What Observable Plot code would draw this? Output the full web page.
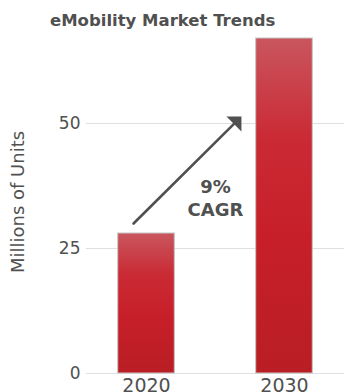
<!DOCTYPE html>
<html>
<head>
<meta charset="utf-8">
<script src="https://cdn.jsdelivr.net/npm/d3@7"></script>
<script src="https://cdn.jsdelivr.net/npm/@observablehq/plot@0.6"></script>
<style>
  body { margin: 0; background: #fff; }
  #wrap { position: relative; width: 344px; height: 392px; overflow: hidden; }
  #title {
    position: absolute; left: 50px; top: 11px;
    font: bold 16.5px "DejaVu Sans", sans-serif; color: #505050;
    white-space: nowrap;
  }
  #chart { position: absolute; left: 0; top: 34px; }
</style>
</head>
<body>
<div id="wrap">
  <div id="title">eMobility Market Trends</div>
  <div id="chart"></div>
</div>
<script>
// Unit sales, millions
const years = [2020, 2030];
const units = [28, 67];
const yTicks = [0, 25, 50];

// Growth annotation: arrow tail/tip and label anchor (data units)
const arrowX = [2019.06, 2026.88];
const arrowY = [30, 51.4];
const cagrLabel = "9%\nCAGR";
const cagrX = [2025];
const cagrY = [35.3];

const bars = years.map((year, i) => ({year, units: units[i]}));
const halfBar = 2.05; // half bar width, in years
const ink = "#505050";

// Right-angled arrowhead whose corner is the tip
const headSymbol = {
  draw(context, size) {
    const s = Math.sqrt(size / Math.PI);
    context.moveTo(0, 0);
    context.lineTo(-s, 0);
    context.lineTo(0, s);
    context.closePath();
  }
};

const chart = Plot.plot({
  width: 344,
  height: 358,
  marginLeft: 86,
  marginRight: 0,
  marginTop: 4,
  marginBottom: 19,
  style: {fontFamily: "DejaVu Sans, sans-serif", fontSize: "17px", color: ink, background: "transparent"},
  x: {domain: [2015.65, 2034.35]},
  y: {domain: [0, 67]},
  marks: [
    Plot.gridY(yTicks, {stroke: "#e0e0e0", strokeOpacity: 1}),
    Plot.rectY(bars, {
      x1: d => d.year - halfBar,
      x2: d => d.year + halfBar,
      y: "units",
      fill: "url(#barFill)",
      stroke: "#c4c4c4",
      strokeWidth: 1
    }),
    Plot.arrow([0], {
      x1: () => arrowX[0], y1: () => arrowY[0],
      x2: () => arrowX[1], y2: () => arrowY[1],
      stroke: ink, strokeWidth: 2.6, headLength: 0, insetEnd: 8
    }),
    Plot.dot([0], {
      x: () => arrowX[1], y: () => arrowY[1],
      symbol: headSymbol, r: 15, fill: ink, stroke: "none"
    }),
    Plot.text([cagrLabel], {
      x: () => cagrX[0], y: () => cagrY[0],
      text: d => d, fontWeight: "bold", fontSize: 18, fill: ink,
      lineAnchor: "middle", lineHeight: 1.28
    }),
    Plot.axisY({ticks: yTicks, tickSize: 0, tickPadding: 6, label: null, fontSize: 17}),
    Plot.axisX({ticks: years, tickFormat: d => String(d), tickSize: 0, tickPadding: 5, label: null, fontSize: 19}),
    Plot.text(["Millions of Units"], {
      frameAnchor: "left", rotate: -90, dx: -68, dy: -4,
      text: d => d, fontSize: 18, fill: ink, textAnchor: "middle", lineAnchor: "middle"
    })
  ]
});

// Vertical shading shared by both bars
const ns = "http://www.w3.org/2000/svg";
const defs = document.createElementNS(ns, "defs");
const grad = document.createElementNS(ns, "linearGradient");
grad.setAttribute("id", "barFill");
grad.setAttribute("x1", "0"); grad.setAttribute("y1", "0");
grad.setAttribute("x2", "0"); grad.setAttribute("y2", "1");
[["0%", "#c9565e"], ["30%", "#ca2a34"], ["60%", "#c71f2a"], ["100%", "#b91e24"]].forEach(([o, c]) => {
  const s = document.createElementNS(ns, "stop");
  s.setAttribute("offset", o);
  s.setAttribute("stop-color", c);
  grad.appendChild(s);
});
defs.appendChild(grad);
chart.insertBefore(defs, chart.firstChild);
chart.style.overflow = "visible";

document.getElementById("chart").appendChild(chart);
</script>
</body>
</html>
